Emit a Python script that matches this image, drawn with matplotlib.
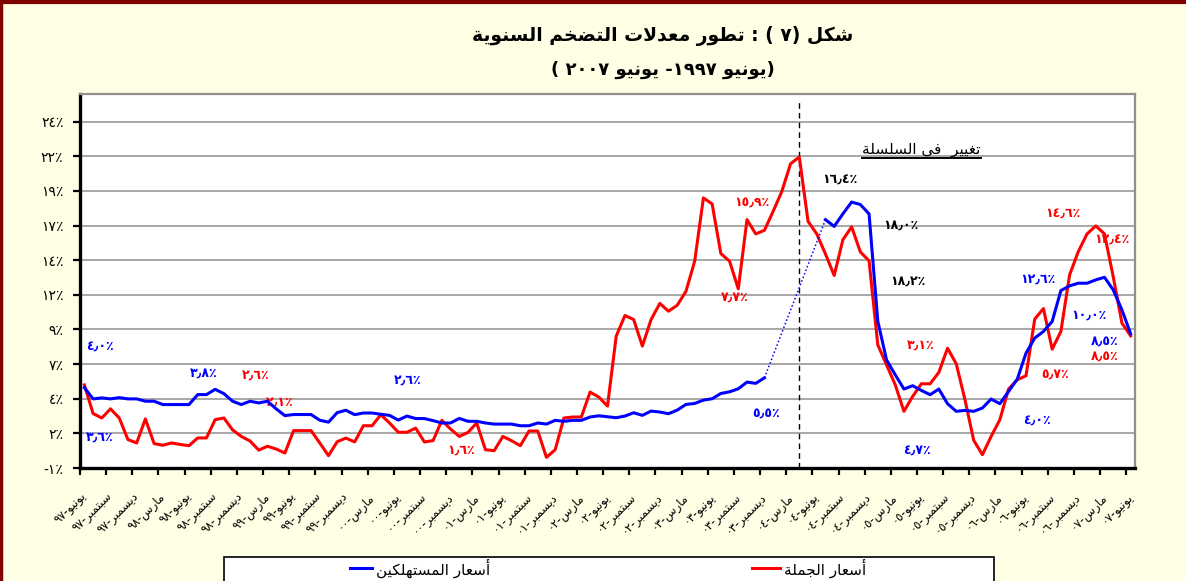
import numpy as np
import matplotlib
matplotlib.use("Agg")
import matplotlib.pyplot as plt
from matplotlib.lines import Line2D
from matplotlib.patches import Rectangle

plt.rcParams['font.family'] = ['DejaVu Sans']

# annual inflation, monthly, June 1997 .. June 2007 (121 months)
consumer = [
    4.80, 3.99, 4.06, 3.99, 4.08, 3.99, 3.99, 3.82, 3.82, 3.58,
    3.58, 3.58, 3.58, 4.30, 4.30, 4.68, 4.37, 3.82, 3.58, 3.82,
    3.70, 3.82, 3.27, 2.78, 2.86, 2.86, 2.86, 2.45, 2.31, 3.00,
    3.17, 2.85, 2.97, 2.97, 2.88, 2.80, 2.46, 2.75, 2.57, 2.57,
    2.42, 2.25, 2.25, 2.58, 2.37, 2.37, 2.25, 2.17, 2.17, 2.17,
    2.05, 2.05, 2.25, 2.17, 2.44, 2.37, 2.44, 2.44, 2.68, 2.77,
    2.70, 2.63, 2.75, 2.99, 2.80, 3.11, 3.04, 2.92, 3.18, 3.59,
    3.66, 3.90, 4.00, 4.38, 4.50, 4.72, 5.20, 5.11, 5.51, np.nan,
    np.nan, np.nan, np.nan, np.nan, np.nan, 16.93, 16.44, 17.35, 18.20, 18.02,
    17.34, 9.60, 6.81, 5.73, 4.70, 4.94, 4.60, 4.29, 4.70, 3.64,
    3.09, 3.16, 3.09, 3.33, 3.98, 3.64, 4.53, 5.42, 7.29, 8.38,
    8.86, 9.58, 11.81, 12.15, 12.34, 12.34, 12.58, 12.77, 11.86, 10.42,
    8.69,
]
wholesale = [
    5.00, 2.93, 2.61, 3.27, 2.61, 1.05, 0.81, 2.54, 0.76, 0.64,
    0.81, 0.70, 0.61, 1.17, 1.17, 2.49, 2.61, 1.75, 1.28, 0.95,
    0.29, 0.57, 0.37, 0.08, 1.70, 1.70, 1.70, 0.81, -0.11, 0.90,
    1.16, 0.88, 2.05, 2.05, 2.85, 2.25, 1.58, 1.58, 1.88, 0.88,
    0.98, 2.44, 1.81, 1.28, 1.57, 2.25, 0.32, 0.25, 1.28, 0.97,
    0.61, 1.67, 1.67, -0.23, 0.32, 2.61, 2.68, 2.68, 4.48, 4.12,
    3.47, 8.52, 10.01, 9.72, 7.80, 9.72, 10.88, 10.32, 10.75, 11.76,
    13.93, 18.50, 18.06, 14.48, 13.93, 11.93, 16.93, 15.90, 16.16, 17.53,
    18.98, 20.97, 21.45, 16.81, 15.90, 14.45, 12.90, 15.48, 16.41, 14.60,
    13.95, 7.89, 6.45, 5.01, 3.09, 4.17, 5.08, 5.08, 5.90, 7.65,
    6.52, 3.93, 1.00, -0.04, 1.28, 2.49, 4.70, 5.37, 5.66, 9.75,
    10.51, 7.58, 8.86, 12.94, 14.63, 15.90, 16.48, 15.90, 12.82, 9.46,
    8.54,
]

month_labels = [
    'يونيو-٩٧', 'سبتمبر-٩٧', 'ديسمبر-٩٧', 'مارس-٩٨', 'يونيو-٩٨', 'سبتمبر-٩٨',
    'ديسمبر-٩٨', 'مارس-٩٩', 'يونيو-٩٩', 'سبتمبر-٩٩', 'ديسمبر-٩٩', 'مارس-٠٠',
    'يونيو-٠٠', 'سبتمبر-٠٠', 'ديسمبر-٠٠', 'مارس-٠١', 'يونيو-٠١', 'سبتمبر-٠١',
    'ديسمبر-٠١', 'مارس-٠٢', 'يونيو-٠٢', 'سبتمبر-٠٢', 'ديسمبر-٠٢', 'مارس-٠٣',
    'يونيو-٠٣', 'سبتمبر-٠٣', 'ديسمبر-٠٣', 'مارس-٠٤', 'يونيو-٠٤', 'سبتمبر-٠٤',
    'ديسمبر-٠٤', 'مارس-٠٥', 'يونيو-٠٥', 'سبتمبر-٠٥', 'ديسمبر-٠٥', 'مارس-٠٦',
    'يونيو-٠٦', 'سبتمبر-٠٦', 'ديسمبر-٠٦', 'مارس-٠٧', 'يونيو-٠٧',
]
y_labels = ['-١٪', '٢٪', '٤٪', '٧٪', '٩٪', '١٢٪', '١٤٪', '١٧٪', '١٩٪', '٢٢٪', '٢٤٪']

title = 'شكل (٧ ) : تطور معدلات التضخم السنوية'
subtitle = '(يونيو ١٩٩٧- يونيو ٢٠٠٧ )'
series_names = ['أسعار المستهلكين', 'أسعار الجملة']
note = 'تغيير  فى السلسلة'

# value call-outs printed on the chart
blue_notes = ['٤٫٠٪', '٣٫٦٪', '٣٫٨٪', '٢٫٦٪', '٥٫٥٪', '٤٫٧٪', '٤٫٠٪', '١٢٫٦٪', '١٠٫٠٪', '٨٫٥٪']
red_notes = ['٢٫٦٪', '٢٫١٪', '١٫٦٪', '١٥٫٩٪', '٧٫٧٪', '٣٫١٪', '٥٫٧٪', '١٤٫٦٪', '١٢٫٤٪', '٨٫٥٪']
black_notes = ['١٦٫٤٪', '١٨٫٠٪', '١٨٫٢٪']
blue_pos = [(2.3, 7.75), (2.3, 1.26), (14.2, 5.88), (37.6, 5.37), (78.7, 2.92),
            (96.0, 0.25), (109.8, 2.41), (109.8, 12.66), (115.7, 10.06), (117.5, 8.11)]
red_pos = [(20.2, 5.73), (22.9, 3.78), (43.7, 0.32), (77.1, 18.15), (75.1, 11.36),
           (96.4, 7.9), (111.8, 5.73), (112.7, 17.36), (118.4, 15.48), (117.5, 7.03)]
black_pos = [(87.2, 19.81), (94.1, 16.56), (95.0, 12.52)]

# --- minimal Arabic shaping (presentation forms) + right-to-left ordering ---
FORMS = {  # isolated, final, initial, medial
    'ا': ('\uFE8D', '\uFE8E', None, None), 'أ': ('\uFE83', '\uFE84', None, None),
    'ب': ('\uFE8F', '\uFE90', '\uFE91', '\uFE92'), 'ة': ('\uFE93', '\uFE94', None, None),
    'ت': ('\uFE95', '\uFE96', '\uFE97', '\uFE98'), 'ج': ('\uFE9D', '\uFE9E', '\uFE9F', '\uFEA0'),
    'خ': ('\uFEA5', '\uFEA6', '\uFEA7', '\uFEA8'), 'د': ('\uFEA9', '\uFEAA', None, None),
    'ر': ('\uFEAD', '\uFEAE', None, None), 'س': ('\uFEB1', '\uFEB2', '\uFEB3', '\uFEB4'),
    'ش': ('\uFEB5', '\uFEB6', '\uFEB7', '\uFEB8'), 'ض': ('\uFEBD', '\uFEBE', '\uFEBF', '\uFEC0'),
    'ط': ('\uFEC1', '\uFEC2', '\uFEC3', '\uFEC4'), 'ع': ('\uFEC9', '\uFECA', '\uFECB', '\uFECC'),
    'غ': ('\uFECD', '\uFECE', '\uFECF', '\uFED0'), 'ف': ('\uFED1', '\uFED2', '\uFED3', '\uFED4'),
    'ك': ('\uFED9', '\uFEDA', '\uFEDB', '\uFEDC'), 'ل': ('\uFEDD', '\uFEDE', '\uFEDF', '\uFEE0'),
    'م': ('\uFEE1', '\uFEE2', '\uFEE3', '\uFEE4'), 'ن': ('\uFEE5', '\uFEE6', '\uFEE7', '\uFEE8'),
    'ه': ('\uFEE9', '\uFEEA', '\uFEEB', '\uFEEC'), 'و': ('\uFEED', '\uFEEE', None, None),
    'ى': ('\uFEEF', '\uFEF0', None, None), 'ي': ('\uFEF1', '\uFEF2', '\uFEF3', '\uFEF4'),
    'لا': ('\uFEFB', '\uFEFC', None, None),
}
LTR = set('٠١٢٣٤٥٦٧٨٩٫٪')
MIRROR = {'(': ')', ')': '('}


def shape(text):
    units, i = [], 0
    while i < len(text):
        if text[i:i + 2] == 'لا':
            units.append('لا')
            i += 2
        else:
            units.append(text[i])
            i += 1
    out = []
    for k, u in enumerate(units):
        if u not in FORMS:
            out.append(u)
            continue
        prev = units[k - 1] if k > 0 else None
        nxt = units[k + 1] if k + 1 < len(units) else None
        jp = prev in FORMS and FORMS[prev][2] is not None
        jn = FORMS[u][2] is not None and nxt in FORMS
        iso, fin, ini, med = FORMS[u]
        out.append(med if jp and jn else fin if jp else ini if jn else iso)
    return ''.join(out)


def ar(text):
    s = shape(text)
    runs, cur, cur_ltr = [], '', None
    for ch in s:
        is_ltr = ch in LTR
        if cur and is_ltr != cur_ltr:
            runs.append((cur, cur_ltr))
            cur = ''
        cur += ch
        cur_ltr = is_ltr
    runs.append((cur, cur_ltr))
    out = ''
    for run, is_ltr in reversed(runs):
        out += run if is_ltr else ''.join(MIRROR.get(c, c) for c in reversed(run))
    return out


W, H = 1186, 581
fig = plt.figure(figsize=(W / 100, H / 100), dpi=100, facecolor='#FFFFE6')
ax = fig.add_axes([80 / W, 1 - 468 / H, (1135 - 80) / W, (468 - 94) / H])
ax.set_facecolor('white')

n = len(consumer)
x = np.arange(n) + 0.5
cons = np.array(consumer)
whol = np.array(wholesale)

ax.plot(x, whol, color='#FF0000', lw=2.2, zorder=3)
ax.plot(x, cons, color='#0000FF', lw=2.2, zorder=4)

# dotted bridge across the break in the consumer series
gap = np.where(np.isnan(cons))[0]
a, b = gap[0] - 1, gap[-1] + 1
ax.plot([x[a], x[b]], [cons[a], cons[b]], color='#0000FF', lw=1.1, ls=(0, (1, 1.5)), zorder=4)

# series change marker at the wholesale peak
ax.axvline(x[int(np.nanargmax(whol))], ymax=0.98, color='black', lw=1, ls=(0, (4, 3)), zorder=2)

ax.set_xlim(0, n)
ax.set_ylim(-1, 26)
yt = np.arange(-1, 25, 2.5)
ax.set_yticks(yt, labels=y_labels, fontsize=10)
ax.yaxis.grid(True, color='#A0A0A0', lw=1.3)
ax.set_axisbelow(True)

ax.set_xticks(np.arange(0, n, 3), labels=[ar(t) for t in month_labels], fontsize=8.5,
              rotation=45, ha='right', va='top', rotation_mode='anchor')
ax.tick_params(axis='x', direction='out', length=5, width=1.6, pad=11)
ax.tick_params(axis='y', direction='out', length=5, width=1.6, pad=7)
for s in ('left', 'bottom'):
    ax.spines[s].set_linewidth(2.4)
    ax.spines[s].set_color('black')
for s in ('top', 'right'):
    ax.spines[s].set_linewidth(1.6)
    ax.spines[s].set_color('#909090')

for txt, (px, py) in zip(blue_notes, blue_pos):
    ax.text(px, py, txt, color='#0000FF', fontsize=9, fontweight='bold', ha='center', va='center')
for txt, (px, py) in zip(red_notes, red_pos):
    ax.text(px, py, txt, color='#FF0000', fontsize=9, fontweight='bold', ha='center', va='center')
for txt, (px, py) in zip(black_notes, black_pos):
    ax.text(px, py, txt, color='black', fontsize=9, fontweight='bold', ha='center', va='center')

nt = ax.text(96.5, 22.0, ar(note), fontsize=11, ha='center', va='center', color='black')

fig.text(663 / W, 1 - 36 / H, ar(title), fontsize=13.5, fontweight='bold', ha='center', va='center')
fig.text(663 / W, 1 - 70 / H, ar(subtitle), fontsize=13, fontweight='bold', ha='center', va='center')

# legend box at the bottom
fig.add_artist(Rectangle((224 / W, -0.05), (994 - 224) / W, 0.05 + (1 - 557 / H),
                         transform=fig.transFigure, facecolor='white', edgecolor='black', lw=1.2))
ly = 1 - 568 / H
fig.add_artist(Line2D([350 / W, 372 / W], [ly, ly], color='#0000FF', lw=2.2, transform=fig.transFigure))
fig.text(376 / W, ly, ar(series_names[0]), fontsize=11, ha='left', va='center')
fig.add_artist(Line2D([752 / W, 780 / W], [ly, ly], color='#FF0000', lw=2.2, transform=fig.transFigure))
fig.text(784 / W, ly, ar(series_names[1]), fontsize=11, ha='left', va='center')

# maroon frame on the left and top edges
fig.add_artist(Line2D([0.001, 0.001], [0, 1], color='#800000', lw=2.5, transform=fig.transFigure))
fig.add_artist(Line2D([0, 1], [0.997, 0.997], color='#800000', lw=3, transform=fig.transFigure))

# underline the note
fig.canvas.draw()
bb = nt.get_window_extent()
fig.add_artist(Line2D([bb.x0 / W, bb.x1 / W], [(bb.y0 - 1) / H, (bb.y0 - 1) / H],
                      color='black', lw=1.4, transform=fig.transFigure))

fig.savefig('out.png', dpi=100, facecolor=fig.get_facecolor())
